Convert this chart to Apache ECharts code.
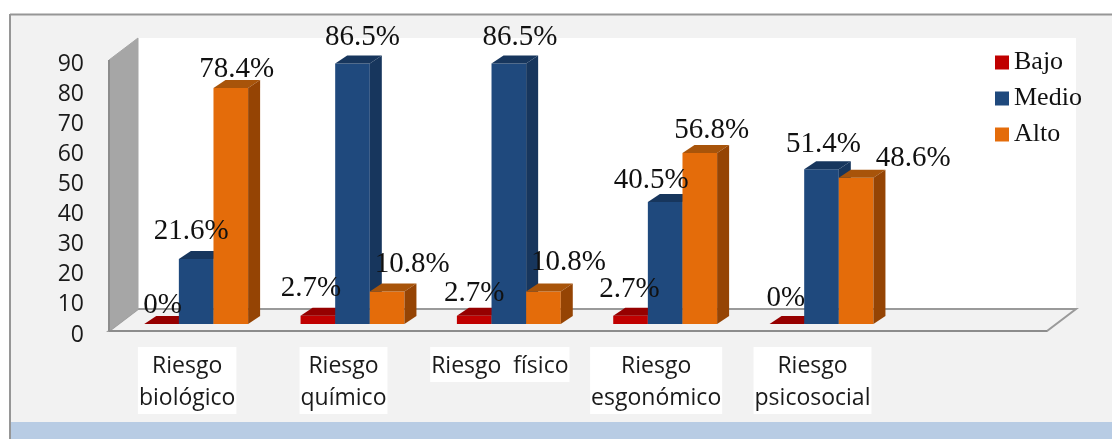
<!DOCTYPE html>
<html><head><meta charset="utf-8">
<style>html,body{margin:0;padding:0;background:#fff}#c{width:1112px;height:439px}</style>
<script src="https://cdn.jsdelivr.net/npm/echarts@6/dist/echarts.min.js"></script>
</head><body><div id="c"></div>
<script>
const categories = ['Riesgo\nbiológico','Riesgo\nquímico','Riesgo  físico','Riesgo\nesgonómico','Riesgo\npsicosocial',''];
const bajo  = [0, 2.7, 2.7, 2.7, 0];
const medio = [21.6, 86.5, 86.5, 40.5, 51.4];
const alto  = [78.4, 10.8, 10.8, 56.8, 48.6];
const seriesNames = ['Bajo','Medio','Alto'];

// label placement (px from the centre of each bar's top front edge); the original has hand-placed labels
const nudgeBajo  = [[1,-19],[-7,-27],[0,-22],[-1,-26],[-1,-26]];
const nudgeMedio = [[-5,-28],[10,-26],[11,-26],[-14,-22],[2,-25]];
const nudgeAlto  = [[6,-19],[25,-27],[25,-29],[12,-23],[57,-19]];

const palette = [
  {front:'#c00000', top:'#960000', side:'#7a0000'},
  {front:'#1f497d', top:'#17365d', side:'#17365d'},
  {front:'#e46c0a', top:'#a8540a', side:'#954404'}
];
const depthX = 12, depthY = 8, shiftX = 9, shiftY = 7, barRatio = 0.2215;
const serif = '"Liberation Serif", serif';
const sans = '"Open Sans", "Noto Sans", sans-serif';

function barSeries(idx, values, nudges){
  const c = palette[idx];
  return {
    name: seriesNames[idx], type:'custom', clip:false,
    itemStyle:{color:c.front},
    data: values.map((v,i)=>[i,v]),
    encode:{x:0,y:1},
    renderItem(params, api){
      const i = api.value(0), v = api.value(1);
      const p0 = api.coord([i,0]), p1 = api.coord([i,v]);
      const w = api.size([1,0])[0]*barRatio;
      const x = p0[0]+shiftX+(idx-1.5)*w, yB = p0[1]-shiftY, yT = p1[1]-shiftY;
      const kids = [];
      if (v>0) kids.push({type:'rect',shape:{x,y:yT,width:w,height:yB-yT},style:{fill:c.front}});
      kids.push({type:'polygon',shape:{points:[[x,yT],[x+depthX,yT-depthY],[x+w+depthX,yT-depthY],[x+w,yT]]},style:{fill:c.top}});
      if (v>0) kids.push({type:'polygon',shape:{points:[[x+w,yT],[x+w+depthX,yT-depthY],[x+w+depthX,yB-depthY],[x+w,yB]]},style:{fill:c.side}});
      const n = nudges[i];
      kids.push({type:'text',z2:100,style:{text:v+'%',x:x+w/2+n[0],y:yT+n[1],align:'center',verticalAlign:'middle',
        font:'29px '+serif,fill:'#111'}});
      return {type:'group',children:kids};
    }
  };
}

const chart = echarts.init(document.getElementById('c'),null,{renderer:'canvas'});
chart.setOption({
  animation:false,
  backgroundColor:'#fff',
  graphic:[
    {type:'rect',z:0,shape:{x:10,y:14,width:1102,height:425},style:{fill:'#f2f2f2'}},
    {type:'rect',z:0,shape:{x:11,y:422,width:1101,height:17},style:{fill:'#b8cce4'}},
    {type:'line',z:0,shape:{x1:10,y1:14.5,x2:1112,y2:14.5},style:{stroke:'#969696',lineWidth:2}},
    {type:'line',z:0,shape:{x1:10,y1:14,x2:10,y2:439},style:{stroke:'#969696',lineWidth:2}}
  ],
  grid:{left:109,top:60,width:938,height:271},
  legend:{
    data:seriesNames, orient:'vertical', left:990, top:43, icon:'rect',
    itemWidth:14, itemHeight:14, itemGap:7,
    textStyle:{fontFamily:serif,fontSize:26,color:'#111',lineHeight:29}
  },
  xAxis:{type:'category',
    data:categories.map(c => c ? c : {value:c, textStyle:{backgroundColor:'transparent',padding:0}}),
    axisLine:{show:false},axisTick:{show:false},splitLine:{show:false},
    axisLabel:{interval:0,margin:16,fontFamily:sans,fontSize:23,lineHeight:32,padding:[3,1,0,1],color:'#1a1a1a',backgroundColor:'#fff',align:'center',verticalAlign:'top',hideOverlap:false}},
  yAxis:{type:'value',min:0,max:90,interval:10,axisLine:{show:false},axisTick:{show:false},splitLine:{show:false},
    axisLabel:{margin:25,fontFamily:sans,fontSize:23,color:'#1a1a1a',verticalAlign:'top',lineHeight:8}},
  series:[
    {type:'custom',name:'marco',silent:true,clip:false,z:1,data:[[0,0]],encode:{x:0,y:1},
     renderItem(params){
      const g = params.coordSys, L=g.x, T=g.y, R=g.x+g.width, B=g.y+g.height, dx=29, dy=22;
      return {type:'group',children:[
        {type:'rect',shape:{x:L+dx,y:T-dy,width:R-L,height:B-T},style:{fill:'#fff'}},
        {type:'polygon',shape:{points:[[L,B],[L+dx,B-dy],[R+dx,B-dy],[R,B]]},style:{fill:'#f2f2f2',stroke:'#9a9a9a',lineWidth:2}},
        {type:'polygon',shape:{points:[[L,T],[L+dx,T-dy],[L+dx,B-dy],[L,B]]},style:{fill:'#a6a6a6',stroke:'#a6a6a6',lineWidth:1}},
        {type:'line',shape:{x1:L,y1:T,x2:L,y2:B},style:{stroke:'#8c8c8c',lineWidth:2}},
        {type:'line',shape:{x1:L,y1:B,x2:R,y2:B},style:{stroke:'#8c8c8c',lineWidth:2}}
      ]};
    }},
    barSeries(0,bajo,nudgeBajo),
    barSeries(1,medio,nudgeMedio),
    barSeries(2,alto,nudgeAlto)
  ]
});
</script></body></html>
